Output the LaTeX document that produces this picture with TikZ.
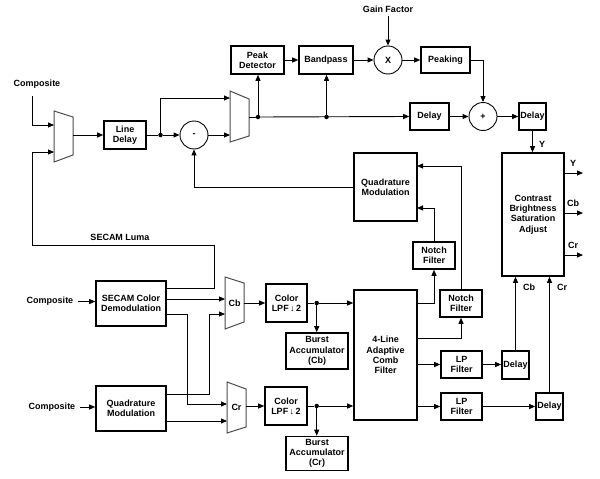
\documentclass[tikz,border=0pt]{standalone}
\usepackage{fontspec}
\setmainfont{Liberation Sans}
\usetikzlibrary{arrows.meta}
\begin{document}
\begin{tikzpicture}[x=1pt,y=-1pt,
  font=\fontsize{9}{10.2}\selectfont\bfseries,
  box/.style={draw,line width=1.6pt,align=center,inner sep=0pt,fill=white},
  circ/.style={draw,circle,line width=0.9pt,minimum size=28pt,inner sep=0pt},
  wire/.style={line width=0.9pt},
  arr/.style={wire,-{Triangle[length=6pt,width=5pt]}},
  mux/.style={draw=black!70,line width=1pt},
  jdot/.style={circle,fill,inner sep=0pt,minimum size=4.5pt},
  lbl/.style={inner sep=0pt}
]
\useasboundingbox[fill=white] (0,0) rectangle (600,479);

% ---------- muxes ----------
\draw[mux] (54,111) -- (73,117) -- (73,155) -- (54,162) -- cycle;
\draw[mux] (230,91) -- (249,99) -- (249,136) -- (230,142) -- cycle;
\draw[mux] (225,277) -- (244,283) -- (244,322) -- (225,329) -- cycle;
\draw[mux] (227,382) -- (246,389) -- (246,427) -- (227,433) -- cycle;
\node[lbl] (mcb) at (234.5,303) {Cb};
\node[lbl] (mcr) at (236.5,407) {Cr};
\coordinate (m1a) at (54,125);
\coordinate (m1b) at (54,152);
\coordinate (m1o) at (73,135);
\coordinate (m2a) at (230,98);
\coordinate (m2b) at (230,135);
\coordinate (m2o) at (249,117);
\coordinate (mcba) at (225,299);
\coordinate (mcbb) at (225,314);
\coordinate (mcbo) at (244,303);
\coordinate (mcra) at (227,404);
\coordinate (mcrb) at (227,421);
\coordinate (mcro) at (246,406);

% ---------- nodes ----------
\node[lbl] (comp1) at (37,84) {Composite};
\node[box,minimum width=42,minimum height=28] (ld) at (125,135) {Line\\Delay};
\node[circ] (minus) at (194,135) {-};
\node[box,minimum width=53,minimum height=28] (pd) at (257.5,60) {Peak\\Detector};
\node[box,minimum width=54,minimum height=28] (bp) at (326,60) {Bandpass};
\node[circ] (mul) at (388,60) {X};
\node[lbl] (gain) at (388,9) {Gain Factor};
\node[box,minimum width=49,minimum height=26] (pk) at (445.5,60) {Peaking};
\node[box,minimum width=39,minimum height=27] (d1) at (429.5,116.5) {Delay};
\node[circ] (plus) at (483,116.5) {+};
\node[box,minimum width=27,minimum height=27] (d2) at (532.5,116.5) {Delay};
\node[box,minimum width=62,minimum height=123] (csa) at (533,214.5) {Contrast\\Brightness\\Saturation\\Adjust};
\node[box,minimum width=63,minimum height=68] (qm1) at (385.5,187) {Quadrature\\Modulation};
\node[box,minimum width=42,minimum height=27] (n1) at (434,255.5) {Notch\\Filter};
\node[box,minimum width=42,minimum height=27] (n2) at (461,303.5) {Notch\\Filter};
\node[box,minimum width=63,minimum height=130] (comb) at (385.5,355) {4-Line\\Adaptive\\Comb\\Filter};
\node[box,minimum width=41,minimum height=27] (lp1) at (461.5,364.5) {LP\\Filter};
\node[box,minimum width=41,minimum height=27] (lp2) at (461.5,406.5) {LP\\Filter};
\node[box,minimum width=27,minimum height=28] (d3) at (515.5,365) {Delay};
\node[box,minimum width=27,minimum height=27] (d4) at (549.5,406.5) {Delay};
\node[box,minimum width=70,minimum height=45] (secam) at (131,303.5) {SECAM Color\\Demodulation};
\node[box,minimum width=70,minimum height=45] (qm2) at (131,408.5) {Quadrature\\Modulation};
\node[lbl] (comp2) at (50,301.5) {Composite};
\node[lbl] (comp3) at (52,407) {Composite};
\node[box,minimum width=41,minimum height=38] (lpf1) at (286.5,303) {Color\\LPF\,↓\,2};
\node[box,minimum width=42,minimum height=38] (lpf2) at (286,406) {Color\\LPF\,↓\,2};
\node[box,minimum width=62,minimum height=36] (bacb) at (317,351) {Burst\\Accumulator\\(Cb)};
\node[box,minimum width=62,minimum height=34] (bacr) at (317,453.5) {Burst\\Accumulator\\(Cr)};

% labels
\node[lbl] (ly) at (542,144) {Y};
\node[lbl] (loy) at (573,163) {Y};
\node[lbl] (locb) at (573,203) {Cb};
\node[lbl] (locr) at (573,245) {Cr};
\node[lbl] (lcb) at (529,287) {Cb};
\node[lbl] (lcr) at (562,287) {Cr};
\node[lbl] (luma) at (120,237) {SECAM Luma};

% junction dots
\node[jdot] (j1) at (160.5,135) {};
\node[jdot] (j2) at (258,117) {};
\node[jdot] (j3) at (326.5,117) {};
\node[jdot] (j4) at (316.7,303) {};
\node[jdot] (j5) at (316.7,406) {};

% ports
\coordinate (ct) at (32,96);
\coordinate (s1) at (166,288);
\coordinate (s2) at (166,299);
\coordinate (s3) at (166,314);
\coordinate (q2a) at (166,394);
\coordinate (q2b) at (166,421);
\coordinate (q1a) at (417,166);
\coordinate (q1b) at (417,208);
\coordinate (cb1) at (417,303);
\coordinate (cb2) at (417,338);
\coordinate (oy) at (583,173);
\coordinate (ocb) at (583,213);
\coordinate (ocr) at (583,255);

% ---------- connectors ----------
\draw[arr] (ct) |- (m1a);
\draw[arr] (s1) -| (214,245) -| (32,152) -- (m1b);
\draw[arr] (m1o) -- (ld.west);
\draw[wire] (ld.east) -- (j1);
\draw[arr] (j1) -- (minus.west);
\draw[arr] (j1) |- (m2a);
\draw[arr] (minus.east) -- (m2b);
\draw[wire] (m2o) -- (j2);
\draw[arr] (j2) -- (d1.west);
\draw[arr] (j2) -- (j2|-pd.south);
\draw[arr] (pd.east) -- (bp.west);
\draw[arr] (j3) -- (j3|-bp.south);
\draw[arr] (bp.east) -- (mul.west);
\draw[arr] ([yshift=-3pt]gain.south) -- (mul.north);
\draw[arr] (mul.east) -- (pk.west);
\draw[arr] (pk.east) -| (plus.north);
\draw[arr] (d1.east) -- (plus.west);
\draw[arr] (plus.east) -- (d2.west);
\draw[arr] (d2.south) -- (d2.south|-csa.north);
\draw[arr] (oy-|csa.east) -- (oy);
\draw[arr] (ocb-|csa.east) -- (ocb);
\draw[arr] (ocr-|csa.east) -- (ocr);
\draw[arr] (qm1.west) -| (minus.south);
\draw[arr] (n1.north) |- (q1b);
\draw[arr] (n2.north) |- (q1a);
\draw[arr] (cb1) -| (n1.south);
\draw[arr] (cb2) -| (n2.south);
\draw[arr] (lp1.west-|comb.east) -- (lp1.west);
\draw[arr] (lp2.west-|comb.east) -- (lp2.west);
\draw[arr] (lp1.east) -- (lp1.east-|d3.west);
\draw[arr] (lp2.east) -- (lp2.east-|d4.west);
\draw[arr] (d3.north) -- (d3.north|-csa.south);
\draw[arr] (d4.north) -- (d4.north|-csa.south);
\draw[arr] ([xshift=4.5pt]comp2.east) -- (comp2.east-|secam.west);
\draw[arr] ([xshift=4.5pt]comp3.east) -- (comp3.east-|qm2.west);
\draw[arr] (s2) -- (mcba);
\draw[arr] (s3) -| (187,404) -- (mcra);
\draw[arr] (q2a) -| (209,314) -- (mcbb);
\draw[arr] (q2b) -- (mcrb);
\draw[arr] (mcbo) -- (lpf1.west);
\draw[arr] (mcro) -- (lpf2.west);
\draw[wire] (lpf1.east) -- (j4);
\draw[arr] (j4) -- (j4-|comb.west);
\draw[arr] (j4) -- (j4|-bacb.north);
\draw[wire] (lpf2.east) -- (j5);
\draw[arr] (j5) -- (j5-|comb.west);
\draw[arr] (j5) -- (j5|-bacr.north);
\end{tikzpicture}
\end{document}
